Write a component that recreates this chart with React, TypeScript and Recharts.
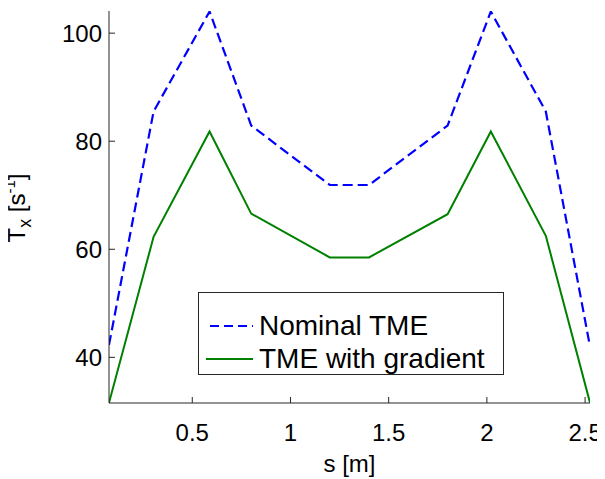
import React from 'react';
import { LineChart, Line, XAxis, YAxis, Legend } from 'recharts';

const sValues = [0.076, 0.303, 0.588, 0.8, 1.2, 1.4, 1.8, 2.02, 2.3, 2.525];
const nominalTME = [42.3, 85.5, 104.0, 82.9, 71.9, 71.9, 82.9, 104.0, 85.5, 42.0];
const gradientTME = [31.6, 62.3, 81.8, 66.6, 58.5, 58.5, 66.5, 81.8, 62.5, 31.6];
const xTicks = [0.5, 1, 1.5, 2, 2.5];
const yTicks = [40, 60, 80, 100];
const seriesNames = ['Nominal TME', 'TME with gradient'];

const data = sValues.map((s, i) => ({ s, nominal: nominalTME[i], gradient: gradientTME[i] }));

const FONT = '"Liberation Sans", Arial, Helvetica, sans-serif';
const AXIS = '#262626';

const legendItems = [
  { name: seriesNames[0], color: '#0000ff', dash: '9 5' },
  { name: seriesNames[1], color: '#008000', dash: undefined as string | undefined },
];

const LegendBox = () => (
  <div
    style={{
      width: 304,
      height: 81,
      border: `1px solid ${AXIS}`,
      background: '#fff',
      position: 'relative',
      fontFamily: FONT,
      fontSize: 28,
      color: '#000',
    }}
  >
    {legendItems.map((it, i) => (
      <div
        key={it.name}
        style={{ position: 'absolute', left: 0, top: 16 + i * 33, height: 33, display: 'flex', alignItems: 'center', whiteSpace: 'nowrap' }}
      >
        <svg width={60} height={10} style={{ display: 'block' }}>
          <line x1={i === 0 ? 11 : 7} x2={54} y1={5} y2={5} stroke={it.color} strokeWidth={2} strokeDasharray={it.dash} />
        </svg>
        <span style={{ lineHeight: '33px' }}>{it.name}</span>
      </div>
    ))}
  </div>
);

const XLabel = (props: any) => {
  const vb = props.viewBox || {};
  const cx = (vb.x || 0) + (vb.width || 0) / 2;
  const cy = (vb.y || 0) + 69;
  return (
    <text x={cx} y={cy} textAnchor="middle" fontFamily={FONT} fontSize={24} fill="#000">
      s [m]
    </text>
  );
};

export default function App() {
  return (
    <div style={{ width: 597, height: 471, background: '#fff', position: 'relative' }}>
      <LineChart
        width={597}
        height={471}
        data={data}
        margin={{ top: 3, right: 15, bottom: 0, left: 0 }}
        style={{ fontFamily: FONT }}
      >
        <XAxis
          dataKey="s"
          type="number"
          domain={[0.076, 2.525]}
          ticks={xTicks}
          allowDataOverflow
          height={76}
          tickSize={-6}
          tickMargin={27}
          stroke={AXIS}
          tick={{ fill: '#000', fontSize: 24, fontFamily: FONT }}
          label={<XLabel />}
        />
        <XAxis
          xAxisId="top"
          orientation="top"
          dataKey="s"
          type="number"
          domain={[0.076, 2.525]}
          ticks={xTicks}
          allowDataOverflow
          height={0}
          tickSize={-6}
          tick={false}
          stroke={AXIS}
        />
        <YAxis
          type="number"
          domain={[31.55, 104.1]}
          ticks={yTicks}
          allowDataOverflow
          width={101}
          tickSize={-6}
          tickMargin={13}
          stroke={AXIS}
          tick={{ fill: '#000', fontSize: 24, fontFamily: FONT }}
        />
        <YAxis
          yAxisId="right"
          orientation="right"
          type="number"
          domain={[31.55, 104.1]}
          ticks={yTicks}
          allowDataOverflow
          width={0}
          tickSize={-6}
          tick={false}
          stroke={AXIS}
        />
        <Legend
          layout="vertical"
          align="center"
          verticalAlign="middle"
          content={() => <LegendBox />}
          wrapperStyle={{ position: 'absolute', left: 190, top: 284, width: 306, height: 83 }}
        />
        <Line
          type="linear"
          dataKey="nominal"
          name={seriesNames[0]}
          stroke="#0000ff"
          strokeWidth={2.2}
          strokeDasharray="10 5"
          dot={false}
          activeDot={false}
          isAnimationActive={false}
        />
        <Line
          type="linear"
          dataKey="gradient"
          name={seriesNames[1]}
          stroke="#008000"
          strokeWidth={2}
          dot={false}
          activeDot={false}
          isAnimationActive={false}
        />
      </LineChart>
      <div
        style={{
          position: 'absolute',
          left: 9,
          top: 200,
          transform: 'translate(-50%, -50%) rotate(-90deg)',
          whiteSpace: 'nowrap',
          fontFamily: FONT,
          fontSize: 24,
          lineHeight: '28px',
          color: '#000',
        }}
      >
        T<sub style={{ fontSize: 18, verticalAlign: '-6px', lineHeight: 0 }}>x</sub> [s
        <sup style={{ fontSize: 15, verticalAlign: '10px', lineHeight: 0 }}>-1</sup>]
      </div>
    </div>
  );
}
